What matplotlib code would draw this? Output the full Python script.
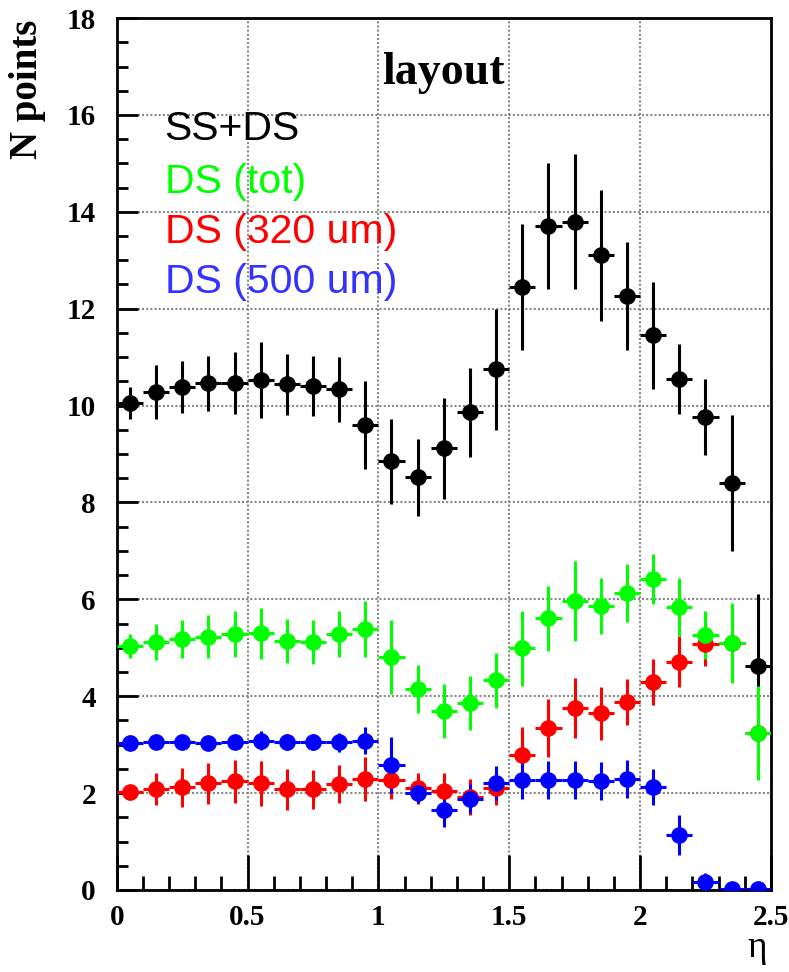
import numpy as np
import matplotlib.pyplot as plt
from matplotlib.ticker import MultipleLocator

# eta bins (width 0.1)
eta = np.arange(0.05, 2.5, 0.1)

# SS+DS
n_all = [10.05, 10.28, 10.38, 10.46, 10.47, 10.53, 10.44, 10.40, 10.34, 9.60,
         8.85, 8.52, 9.12, 9.86, 10.75, 12.45, 13.70, 13.80, 13.10, 12.26,
         11.45, 10.55, 9.76, 8.40, 4.62]
e_all = [0.33, 0.55, 0.54, 0.57, 0.64, 0.78, 0.63, 0.62, 0.67, 0.90,
         0.88, 0.79, 1.04, 0.92, 1.25, 1.30, 1.30, 1.40, 1.35, 1.12,
         1.10, 0.72, 0.78, 1.40, 1.50]

# DS (tot)
n_ds = [5.03, 5.12, 5.18, 5.23, 5.28, 5.30, 5.14, 5.12, 5.28, 5.39,
        4.81, 4.15, 3.69, 3.86, 4.33, 4.99, 5.61, 5.97, 5.86, 6.13,
        6.42, 5.84, 5.26, 5.10, 3.24]
e_ds = [0.25, 0.38, 0.40, 0.44, 0.48, 0.53, 0.46, 0.45, 0.48, 0.58,
        0.77, 0.50, 0.56, 0.55, 0.57, 0.77, 0.67, 0.83, 0.58, 0.59,
        0.52, 0.60, 0.50, 0.83, 0.98]

# DS (320 um)
n_320 = [2.02, 2.08, 2.12, 2.20, 2.24, 2.20, 2.08, 2.08, 2.19, 2.29,
         2.27, 2.10, 2.04, 1.92, 2.10, 2.79, 3.34, 3.76, 3.65, 3.88,
         4.29, 4.71, 5.08, 5.10, 3.24]
e_320 = [0.14, 0.33, 0.40, 0.42, 0.44, 0.46, 0.42, 0.40, 0.40, 0.46,
         0.40, 0.32, 0.37, 0.37, 0.35, 0.58, 0.60, 0.62, 0.55, 0.48,
         0.47, 0.53, 0.45, 0.80, 0.95]

# DS (500 um)
n_500 = [3.03, 3.05, 3.05, 3.03, 3.05, 3.08, 3.05, 3.05, 3.05, 3.08,
         2.58, 2.00, 1.65, 1.88, 2.20, 2.27, 2.27, 2.27, 2.25, 2.29,
         2.13, 1.14, 0.16, 0.02, 0.02]
e_500 = [0.10, 0.12, 0.15, 0.10, 0.10, 0.20, 0.17, 0.17, 0.20, 0.28,
         0.57, 0.20, 0.35, 0.30, 0.35, 0.40, 0.40, 0.40, 0.40, 0.40,
         0.37, 0.41, 0.20, 0.02, 0.02]

serif = ['Liberation Serif', 'DejaVu Serif']
sans = ['Liberation Sans', 'DejaVu Sans']

# bold serif tick labels everywhere
plt.rcParams['font.family'] = serif
plt.rcParams['font.weight'] = 'bold'

fig = plt.figure(figsize=(7.89, 9.72), dpi=100)
ax = fig.add_axes([0.148, 0.0844, 0.829, 0.897])

ax.set_xlim(0, 2.5)
ax.set_ylim(0, 18)

ax.grid(True, which='major', linestyle=(0, (1, 1)), color='#888888', linewidth=1.5)
ax.set_axisbelow(True)

series = [(n_all, e_all, 'black'),
          (n_320, e_320, '#ff0000'),
          (n_500, e_500, '#0000ff'),
          (n_ds, e_ds, '#00ff00')]
for n, e, c in series:
    ax.errorbar(eta, n, yerr=e, xerr=0.05, fmt='o', color=c, ms=11,
                elinewidth=2.2, capsize=0, zorder=3)

ax.xaxis.set_major_locator(MultipleLocator(0.5))
ax.xaxis.set_minor_locator(MultipleLocator(0.1))
ax.yaxis.set_major_locator(MultipleLocator(2))
ax.yaxis.set_minor_locator(MultipleLocator(0.5))
ax.xaxis.set_major_formatter(plt.FuncFormatter(lambda v, p: f'{v:g}'))

ax.tick_params(axis='both', which='both', direction='in', top=False, right=False,
               width=2, labelsize=21)
ax.tick_params(axis='x', which='major', length=25, pad=10)
ax.tick_params(axis='x', which='minor', length=10)
ax.tick_params(axis='y', which='major', length=15, pad=15)
ax.tick_params(axis='y', which='minor', length=8)

for s in ax.spines.values():
    s.set_linewidth(2)

ax.set_xlabel('η', fontsize=27, weight='normal')
ax.xaxis.set_label_coords(0.979, -0.066)
ax.xaxis.label.set_verticalalignment('center')

fig.text(28 / 789, 1 - 89 / 972, 'N points', rotation=90, ha='center', va='center',
         weight='bold', fontsize=28)

ax.text(0.5, 0.924, 'layout', transform=ax.transAxes, ha='center', va='baseline',
        weight='bold', fontsize=33)

labels = ['SS+DS', 'DS (tot)', 'DS (320 um)', 'DS (500 um)']
colors = ['black', '#00ff00', '#ff0000', '#3333ff']
ys = [0.860, 0.799, 0.742, 0.685]
for t, c, y in zip(labels, colors, ys):
    ax.text(0.073, y, t, transform=ax.transAxes, ha='left', va='baseline',
            family=sans, weight='normal', fontsize=29.5, color=c)

fig.savefig('out.png', dpi=100)
